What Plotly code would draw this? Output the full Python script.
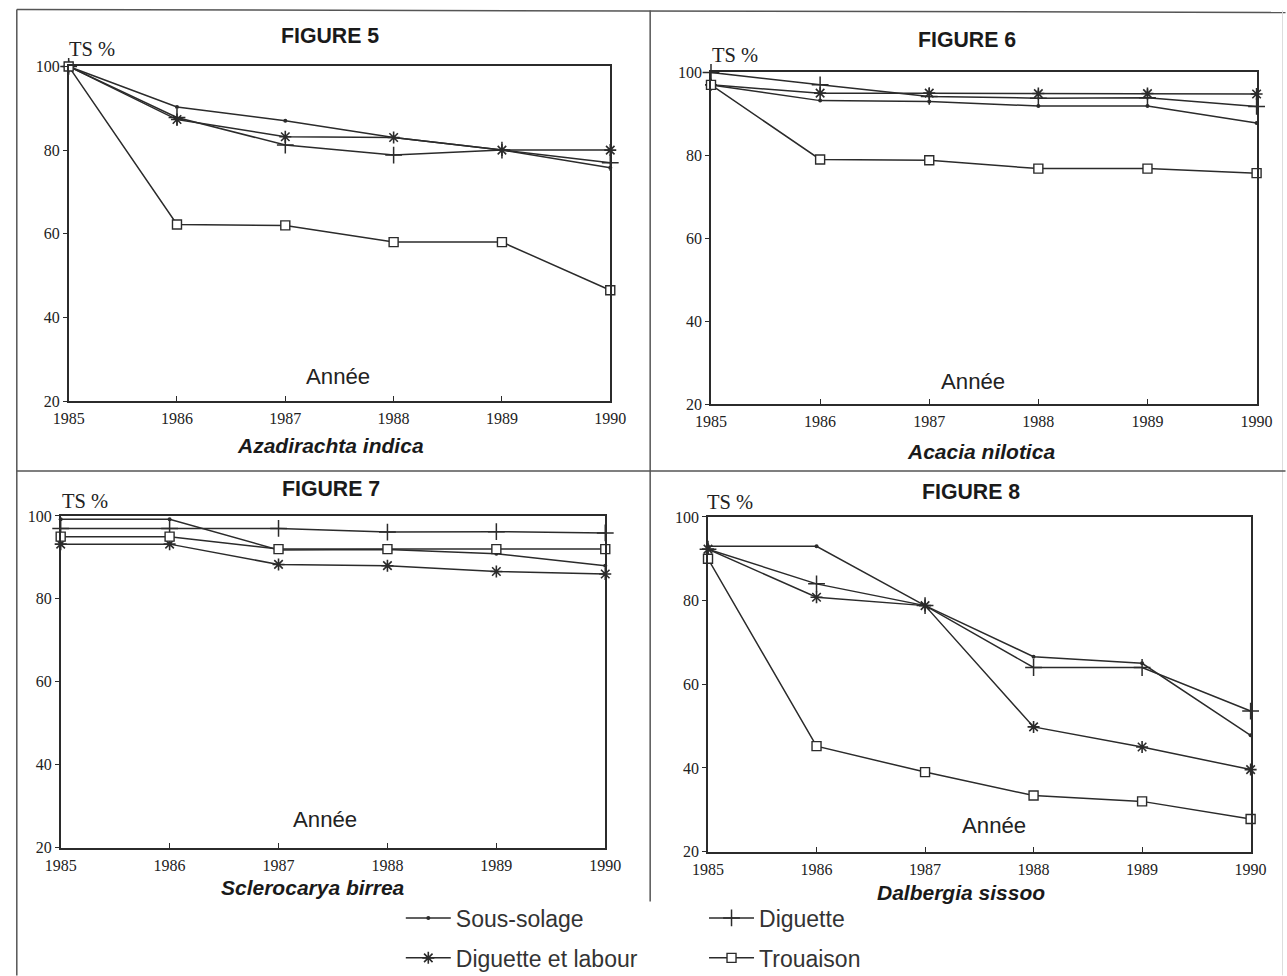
import plotly.graph_objects as go

years = [1985, 1986, 1987, 1988, 1989, 1990]
y_ticks = [20, 40, 60, 80, 100]

series_names = ["Sous-solage", "Diguette", "Diguette et labour", "Trouaison"]

# Figure 5 - Azadirachta indica
sous_solage_5 = [100, 90.3, 87.0, 83.0, 80.0, 75.8]
diguette_5 = [100, 87.8, 81.2, 78.8, 80.0, 77.0]
dig_labour_5 = [100, 87.3, 83.2, 83.0, 80.0, 80.0]
trouaison_5 = [100, 62.2, 62.0, 58.0, 58.0, 46.5]

# Figure 6 - Acacia nilotica
sous_solage_6 = [97, 93.2, 93.0, 91.9, 91.9, 87.8]
diguette_6 = [100, 97.0, 94.2, 93.8, 93.9, 91.8]
dig_labour_6 = [97, 95.0, 95.0, 94.9, 94.9, 94.8]
trouaison_6 = [97, 79.0, 78.8, 76.8, 76.8, 75.7]

# Figure 7 - Sclerocarya birrea
sous_solage_7 = [99.2, 99.2, 91.8, 91.9, 90.9, 88.0]
diguette_7 = [97.0, 97.0, 97.0, 96.1, 96.2, 95.9]
dig_labour_7 = [93.2, 93.2, 88.3, 88.0, 86.6, 86.0]
trouaison_7 = [95.0, 95.0, 92.0, 92.0, 92.0, 92.0]

# Figure 8 - Dalbergia sissoo
sous_solage_8 = [93.0, 93.0, 78.8, 66.6, 65.0, 47.8]
diguette_8 = [92.3, 84.0, 78.8, 64.0, 64.0, 53.6]
dig_labour_8 = [92.3, 80.8, 78.8, 49.8, 45.0, 39.6]
trouaison_8 = [90.0, 45.2, 39.0, 33.4, 32.0, 27.8]

figure_titles = ["FIGURE 5", "FIGURE 6", "FIGURE 7", "FIGURE 8"]
species = ["Azadirachta indica", "Acacia nilotica", "Sclerocarya birrea", "Dalbergia sissoo"]

panels = [
    [sous_solage_5, diguette_5, dig_labour_5, trouaison_5],
    [sous_solage_6, diguette_6, dig_labour_6, trouaison_6],
    [sous_solage_7, diguette_7, dig_labour_7, trouaison_7],
    [sous_solage_8, diguette_8, dig_labour_8, trouaison_8],
]

# Target positions (pixels of the 1287x976 picture)
frames = [(67, 66, 610, 401), (711, 72, 1258, 404), (59, 516, 605, 848), (708, 517, 1252, 852)]
fig_title_pos = [(329, 36), (968, 40), (330, 489), (972, 492)]
ts_pos = [(90, 49), (735, 55), (83, 501), (730, 502)]
annee_pos = [(337, 376), (974, 381), (324, 820), (995, 826)]
species_pos = [(330, 445), (982, 451), (312, 888), (962, 893)]

# page -> picture mapping observed for the photographing step
SX, OX = 0.978, 14.2
SY, OY = 0.984, 7.5
WF, HF = 1305, 995

def px(X):
    return ((X - OX) / SX) / WF

def py(Y):
    return 1 - ((Y - OY) / SY) / HF

INK = "#2b2b2b"
styles = [
    dict(symbol="circle", size=4, color=INK),
    dict(symbol="cross-thin-open", size=12, color=INK, line=dict(width=1.5, color=INK)),
    dict(symbol="asterisk-open", size=10, color=INK, line=dict(width=1.6, color=INK)),
    dict(symbol="square", size=9, color="white", line=dict(width=1.4, color=INK)),
]
legend_of = ["legend", "legend2", "legend", "legend2"]

fig = go.Figure()
layout = dict(
    width=WF, height=HF, margin=dict(l=0, r=0, t=0, b=0),
    paper_bgcolor="white", plot_bgcolor="white", showlegend=True,
)

for p, data in enumerate(panels):
    ax = "" if p == 0 else str(p + 1)
    for s, vals in enumerate(data):
        fig.add_trace(go.Scatter(
            x=years, y=vals, mode="lines+markers",
            name=series_names[s],
            line=dict(color=INK, width=1.5),
            marker=styles[s],
            xaxis="x" + ax, yaxis="y" + ax,
            cliponaxis=False,
            showlegend=(p == 0),
            legend=legend_of[s],
            legendgroup=series_names[s],
            hoverinfo="skip",
        ))
    l, t, r, b = frames[p]
    layout["xaxis" + ax] = dict(
        domain=[px(l), px(r)], anchor="y" + ax, range=[1985, 1990],
        tickvals=years, ticktext=[str(v) for v in years],
        ticks="inside", ticklen=5, tickwidth=1.2, tickcolor=INK,
        showline=True, mirror=True, linecolor=INK, linewidth=1.6,
        showgrid=False, zeroline=False, ticklabelstandoff=2,
        tickfont=dict(family="Liberation Serif", size=16, color="#222"),
    )
    layout["yaxis" + ax] = dict(
        domain=[py(b), py(t)], anchor="x" + ax, range=[20, 100],
        tickvals=y_ticks, ticks="outside", ticklen=4, tickwidth=1.2, tickcolor=INK,
        showline=True, mirror=True, linecolor=INK, linewidth=1.6,
        showgrid=False, zeroline=False,
        tickfont=dict(family="Liberation Serif", size=16, color="#222"),
    )

annotations = []
for p in range(4):
    annotations.append(dict(text="<b>%s</b>" % figure_titles[p], x=px(fig_title_pos[p][0]), y=py(fig_title_pos[p][1]),
                            xref="paper", yref="paper", showarrow=False, xanchor="center", yanchor="middle",
                            font=dict(family="Liberation Sans", size=21.3, color="#1a1a1a")))
    annotations.append(dict(text="TS %", x=px(ts_pos[p][0]), y=py(ts_pos[p][1]),
                            xref="paper", yref="paper", showarrow=False, xanchor="center", yanchor="middle",
                            font=dict(family="Liberation Serif", size=20.5, color="#222")))
    annotations.append(dict(text="Année", x=px(annee_pos[p][0]), y=py(annee_pos[p][1]),
                            xref="paper", yref="paper", showarrow=False, xanchor="center", yanchor="middle",
                            font=dict(family="Liberation Sans", size=22.2, color="#222")))
    annotations.append(dict(text="<b><i>%s</i></b>" % species[p], x=px(species_pos[p][0]), y=py(species_pos[p][1]),
                            xref="paper", yref="paper", showarrow=False, xanchor="center", yanchor="middle",
                            font=dict(family="Liberation Sans", size=21, color="#1a1a1a")))
layout["annotations"] = annotations

def line(x0, y0, x1, y1, color="#555", width=1.5):
    return dict(type="line", xref="paper", yref="paper", x0=px(x0), y0=py(y0), x1=px(x1), y1=py(y1),
                line=dict(color=color, width=width), layer="below")

layout["shapes"] = [
    line(15, 9, 1287, 12),      # outer top
    line(15, 9, 15, 976),       # outer left
    line(1284, 10, 1284, 976, color="#ddd", width=1),  # outer right (faint)
    line(650, 10, 650, 902),    # vertical divider
    line(15, 471, 1287, 471),   # horizontal divider
]

legend_common = dict(
    orientation="v", xanchor="left", yanchor="top", traceorder="grouped",
    tracegroupgap=7, bgcolor="rgba(0,0,0,0)", borderwidth=0,
    font=dict(family="Liberation Sans", size=23, color="#333"),
    itemwidth=45,
)
layout["legend"] = dict(legend_common, x=px(400), y=py(897))
layout["legend2"] = dict(legend_common, x=px(704), y=py(897))

fig.update_layout(**layout)
fig.write_html(
    "out.html",
    config={"displayModeBar": False},
    post_script="document.documentElement.style.margin='0';document.body.style.margin='0';"
                "document.body.style.padding='0';document.documentElement.style.overflow='hidden';"
                "document.body.style.overflow='hidden';",
)
